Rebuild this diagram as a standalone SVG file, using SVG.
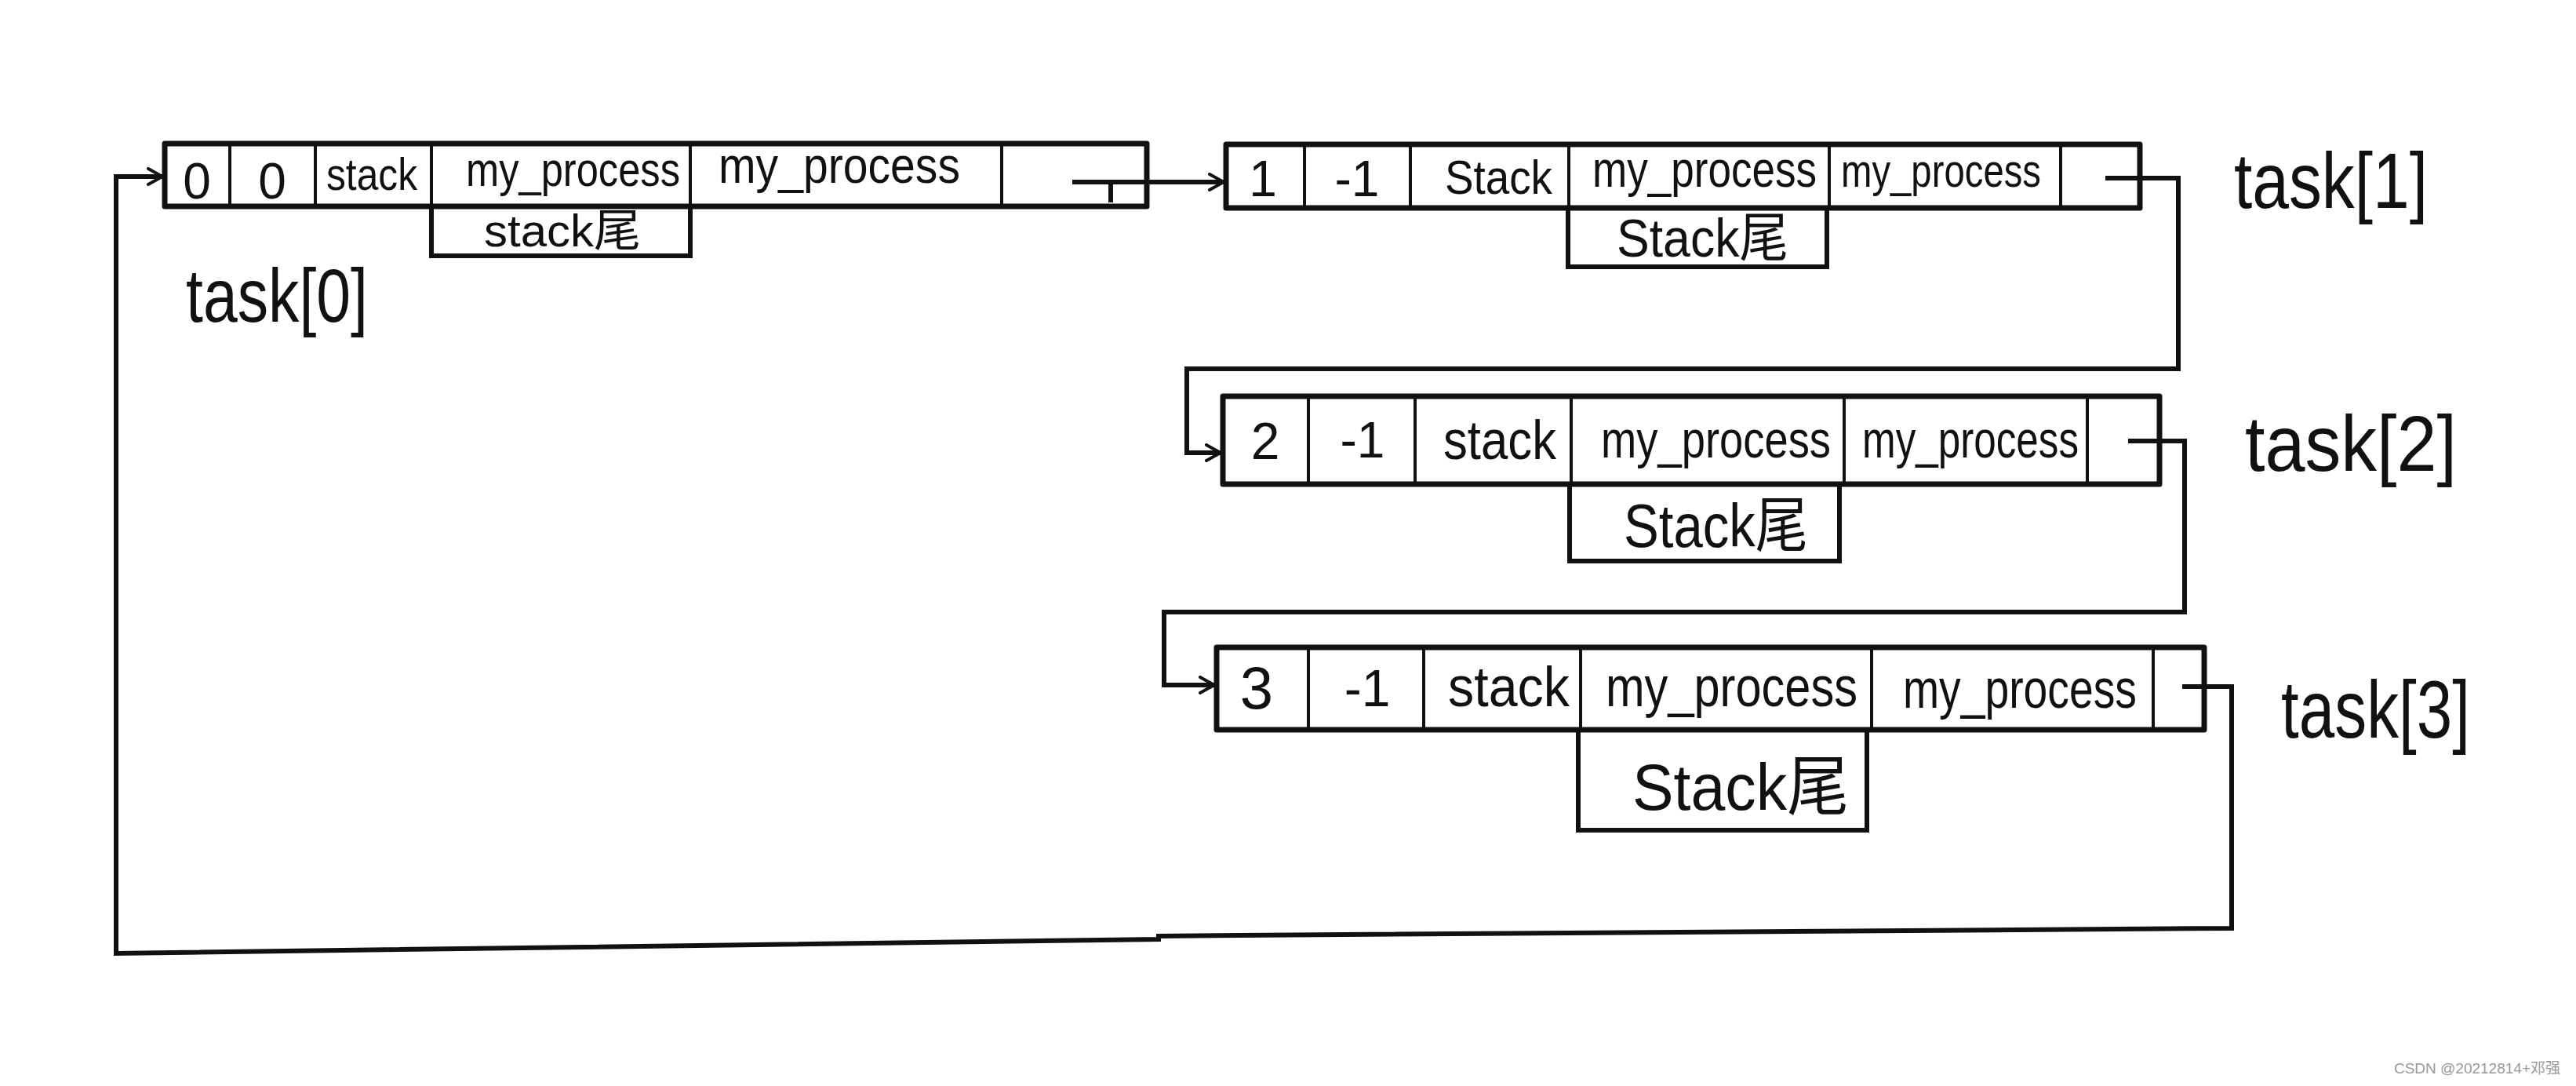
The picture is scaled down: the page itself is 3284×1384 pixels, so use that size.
<svg xmlns="http://www.w3.org/2000/svg" width="3284" height="1384" viewBox="0 0 3284 1384">
<defs>
<marker id="arr" markerUnits="userSpaceOnUse" markerWidth="24" markerHeight="24" refX="20" refY="12" orient="auto">
<path d="M2,2 L20,12 L2,22" fill="none" stroke="#111" stroke-width="4" stroke-linecap="round"/>
</marker>
<style>
.box{fill:none;stroke:#111;stroke-width:7;stroke-linejoin:round}
.div{stroke:#111;stroke-width:4}
.sub{fill:none;stroke:#111;stroke-width:6}
.t{font-family:"Liberation Sans","Noto Sans CJK SC",sans-serif;fill:#111}
.m{text-anchor:middle}
.con{fill:none;stroke:#111;stroke-width:6;stroke-linejoin:miter}
</style>
</defs>
<rect width="3284" height="1384" fill="#fff"/>
<g id="connectors">
<path class="con" d="M1367,232 H1560" marker-end="url(#arr)"/>
<path class="con" d="M1416,232 V258" stroke-width="3"/>
<path class="con" d="M2684,227 H2777 V470 H1513 V577 H1556" marker-end="url(#arr)"/>
<path class="con" d="M2713,562 H2785 V780 H1484 V873 H1548" marker-end="url(#arr)"/>
<path class="con" d="M2782,875 H2845 V1183 L1580,1192 L1477,1193 L1477,1197 L148,1215 V225 H207" marker-end="url(#arr)"/>
</g>
<g id="task0">
<rect class="box" x="210" y="183" width="1252" height="80"/>
<path class="div" d="M293,183V263M402,183V263M550,183V263M880,183V263M1277,183V263"/>
<rect class="sub" x="550" y="263" width="330" height="63"/>
<text class="t m" x="251" y="253" font-size="64">0</text>
<text class="t m" x="347" y="253" font-size="64">0</text>
<text class="t" x="416" y="242" font-size="58" textLength="116" lengthAdjust="spacingAndGlyphs">stack</text>
<text class="t" x="594" y="237" font-size="62" textLength="273" lengthAdjust="spacingAndGlyphs">my_process</text>
<text class="t" x="916" y="233" font-size="64" textLength="308" lengthAdjust="spacingAndGlyphs">my_process</text>
<text class="t" x="617" y="314" font-size="58" textLength="200" lengthAdjust="spacingAndGlyphs">stack尾</text>
<text class="t" x="237" y="410" font-size="96" textLength="232" lengthAdjust="spacingAndGlyphs">task[0]</text>
</g>
<g id="task1">
<rect class="box" x="1563" y="184" width="1165" height="81"/>
<path class="div" d="M1663,184V265M1798,184V265M2000,184V265M2332,184V265M2627,184V265"/>
<rect class="sub" x="1999" y="265" width="330" height="75"/>
<text class="t m" x="1610" y="250" font-size="64">1</text>
<text class="t m" x="1730" y="250" font-size="64">-1</text>
<text class="t" x="1842" y="247" font-size="62" textLength="137" lengthAdjust="spacingAndGlyphs">Stack</text>
<text class="t" x="2030" y="238" font-size="64" textLength="286" lengthAdjust="spacingAndGlyphs">my_process</text>
<text class="t" x="2347" y="238" font-size="60" textLength="255" lengthAdjust="spacingAndGlyphs">my_process</text>
<text class="t" x="2061" y="327" font-size="68" textLength="219" lengthAdjust="spacingAndGlyphs">Stack尾</text>
<text class="t" x="2848" y="265" font-size="100" textLength="247" lengthAdjust="spacingAndGlyphs">task[1]</text>
</g>
<g id="task2">
<rect class="box" x="1559" y="505" width="1194" height="112"/>
<path class="div" d="M1668,505V617M1804,505V617M2003,505V617M2351,505V617M2661,505V617"/>
<rect class="sub" x="2001" y="617" width="344" height="98"/>
<text class="t m" x="1613" y="585" font-size="66">2</text>
<text class="t m" x="1737" y="583" font-size="64">-1</text>
<text class="t" x="1840" y="585" font-size="70" textLength="144" lengthAdjust="spacingAndGlyphs">stack</text>
<text class="t" x="2041" y="583" font-size="66" textLength="293" lengthAdjust="spacingAndGlyphs">my_process</text>
<text class="t" x="2374" y="583" font-size="66" textLength="276" lengthAdjust="spacingAndGlyphs">my_process</text>
<text class="t" x="2070" y="697" font-size="78" textLength="235" lengthAdjust="spacingAndGlyphs">Stack尾</text>
<text class="t" x="2862" y="600" font-size="100" textLength="270" lengthAdjust="spacingAndGlyphs">task[2]</text>
</g>
<g id="task3">
<rect class="box" x="1551" y="825" width="1259" height="105"/>
<path class="div" d="M1668,825V930M1815,825V930M2015,825V930M2386,825V930M2745,825V930"/>
<rect class="sub" x="2012" y="930" width="368" height="128"/>
<text class="t m" x="1602" y="903" font-size="76">3</text>
<text class="t m" x="1743" y="900" font-size="66">-1</text>
<text class="t" x="1846" y="900" font-size="72" textLength="155" lengthAdjust="spacingAndGlyphs">stack</text>
<text class="t" x="2047" y="900" font-size="72" textLength="321" lengthAdjust="spacingAndGlyphs">my_process</text>
<text class="t" x="2426" y="902" font-size="70" textLength="298" lengthAdjust="spacingAndGlyphs">my_process</text>
<text class="t" x="2081" y="1032" font-size="84" textLength="276" lengthAdjust="spacingAndGlyphs">Stack尾</text>
<text class="t" x="2908" y="940" font-size="104" textLength="241" lengthAdjust="spacingAndGlyphs">task[3]</text>
</g>
<text class="t" x="3264" y="1368" font-size="19" text-anchor="end" style="fill:#9a9a9a">CSDN @20212814+邓强</text>
</svg>
